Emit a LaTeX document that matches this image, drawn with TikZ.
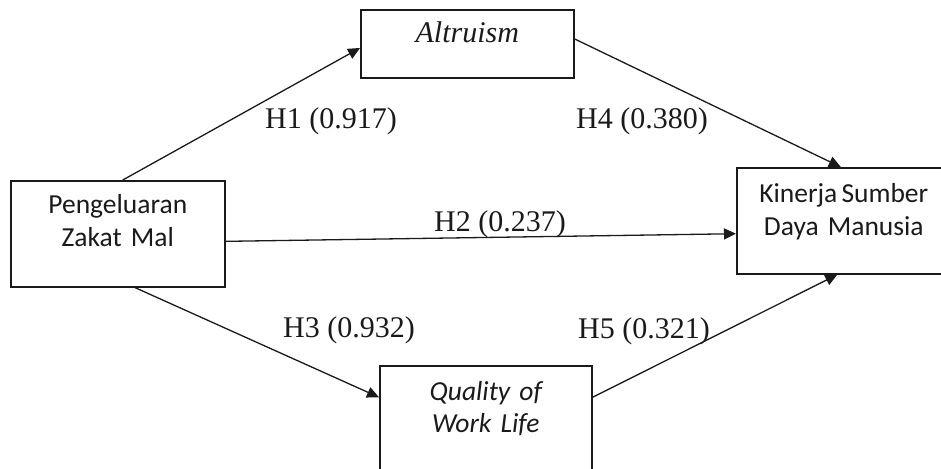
\documentclass[tikz,border=0pt]{standalone}
\usepackage{fontspec}
\setmainfont{Liberation Serif}
\newfontfamily\calfont{Carlito}
\usepackage{tikz}
\usetikzlibrary{calc,arrows.meta}
\definecolor{ink}{HTML}{1A1A1A}
\tikzset{
  box/.style={draw=ink, line width=0.8pt, inner sep=0pt, anchor=north west, align=center, text=ink},
  sansbox/.style={box, font=\calfont\fontsize{13.75}{16.5}\selectfont},
  link/.style={draw=ink, line width=0.65pt, -{Triangle[length=6pt,width=5.5pt]}},
  hyp/.style={text=ink, font=\rmfamily\fontsize{15}{18}\selectfont, anchor=base, inner sep=0pt}
}

\begin{document}
\begin{tikzpicture}[x=0.5pt,y=-0.5pt]
  \useasboundingbox (0,0) rectangle (941,468);
  \clip (0,0) rectangle (941,468);

  % the four constructs (right and bottom boxes run off the page)
  \node[sansbox, text width=107pt, text height=16.5pt, text depth=36.5pt] (pzm) at (10,180) {Pengeluaran\\Zakat Mal};
  \node[box, text width=106.5pt, text height=16.5pt, text depth=17.5pt, font=\rmfamily\itshape\fontsize{15}{18}\selectfont] (alt) at (360,9) {Altruism};
  \node[sansbox, text width=107pt, text height=17.5pt, text depth=35.5pt] (ksd) at (736,167) {Kinerja\hspace{0.15em}Sumber\\Daya Manusia};
  \node[sansbox, text width=106pt, text height=17.5pt, text depth=35.5pt, font=\calfont\itshape\fontsize{13.75}{16}\selectfont] (qwl) at (379,365) {Quality of\\Work Life};

  \draw[link] ($(pzm.north west)!0.523!(pzm.north east)$) -- ($(alt.north west)!0.56!(alt.south west)$);
  \draw[link] ($(alt.north east)!0.43!(alt.south east)$) -- ($(ksd.north west)!0.486!(ksd.north east)$);
  \draw[link] ($(pzm.north east)!0.57!(pzm.south east)$) -- ($(ksd.north west)!0.62!(ksd.south west)$);
  \draw[link] ($(pzm.south west)!0.58!(pzm.south east)$) -- ($(qwl.north west)!0.3!(qwl.south west)$);
  \draw[link] ($(qwl.north east)!0.3!(qwl.south east)$) -- ($(ksd.south west)!0.47!(ksd.south east)$);

  \node[hyp] (h1) at (331,128) {H1 (0.917)};
  \node[hyp] (h4) at (642,128) {H4 (0.380)};
  \node[hyp] (h2) at (500,231) {H2 (0.237)};
  \node[hyp] (h3) at (349,337) {H3 (0.932)};
  \node[hyp] (h5) at (644,338) {H5 (0.321)};
\end{tikzpicture}
\end{document}
